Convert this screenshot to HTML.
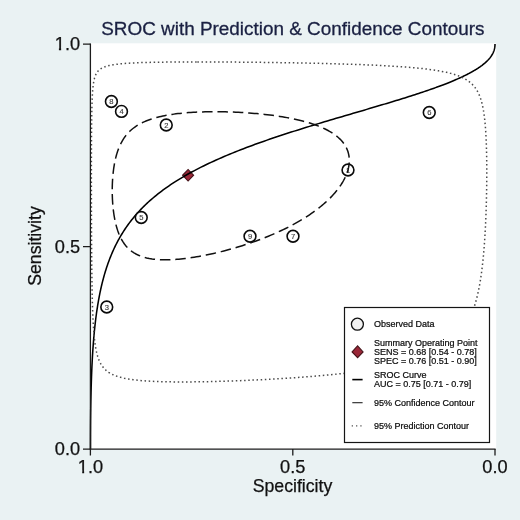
<!DOCTYPE html>
<html><head><meta charset="utf-8"><title>SROC</title>
<style>html,body{margin:0;padding:0;background:#eaf2f3;}svg{display:block}</style></head>
<body><svg width="520" height="520" viewBox="0 0 520 520" font-family="'Liberation Sans', Arial, sans-serif">
<rect x="0" y="0" width="520" height="520" fill="#eaf2f3"/>
<rect x="91" y="43.3" width="405.2" height="405.9" fill="#fff"/>
<path d="M182.6 175.25 L188.1 169.45 L193.6 175.25 L188.1 181.05 Z" fill="#9a2738" stroke="#451319" stroke-width="1.1" stroke-linejoin="miter"/>
<path d="M90.50 449.00 L90.50 446.97 L90.50 446.77 L90.50 446.55 L90.50 446.30 L90.50 446.03 L90.50 445.73 L90.50 445.40 L90.50 445.04 L90.50 444.64 L90.50 444.21 L90.50 443.73 L90.50 443.20 L90.50 442.62 L90.50 441.99 L90.51 441.29 L90.51 440.53 L90.51 439.69 L90.51 438.78 L90.51 437.77 L90.52 436.67 L90.52 435.46 L90.52 434.14 L90.53 432.70 L90.54 431.12 L90.55 429.40 L90.56 427.52 L90.57 425.47 L90.59 423.24 L90.60 420.82 L90.63 418.18 L90.66 415.32 L90.69 412.22 L90.74 408.87 L90.79 405.25 L90.86 401.34 L90.94 397.14 L91.04 392.62 L91.16 387.77 L91.32 382.59 L91.50 377.07 L91.50 377.07 L91.53 376.23 L91.56 375.38 L91.59 374.52 L91.63 373.66 L91.66 372.79 L91.70 371.91 L91.73 371.02 L91.77 370.13 L91.81 369.23 L91.85 368.32 L91.89 367.40 L91.93 366.48 L91.98 365.54 L92.02 364.60 L92.07 363.66 L92.12 362.70 L92.16 361.74 L92.22 360.76 L92.27 359.78 L92.32 358.80 L92.38 357.80 L92.43 356.80 L92.49 355.79 L92.55 354.77 L92.62 353.75 L92.68 352.71 L92.75 351.67 L92.81 350.62 L92.88 349.56 L92.96 348.50 L93.03 347.43 L93.11 346.35 L93.19 345.26 L93.27 344.17 L93.35 343.07 L93.44 341.96 L93.53 340.84 L93.62 339.72 L93.71 338.58 L93.81 337.44 L93.91 336.30 L94.02 335.15 L94.12 333.99 L94.23 332.82 L94.34 331.64 L94.46 330.46 L94.58 329.27 L94.70 328.08 L94.83 326.87 L94.96 325.67 L95.10 324.45 L95.23 323.23 L95.38 322.00 L95.52 320.76 L95.68 319.52 L95.83 318.27 L95.99 317.02 L96.16 315.76 L96.33 314.49 L96.50 313.22 L96.68 311.94 L96.87 310.65 L97.06 309.36 L97.26 308.07 L97.46 306.77 L97.67 305.46 L97.88 304.15 L98.10 302.83 L98.33 301.51 L98.57 300.18 L98.81 298.84 L99.06 297.51 L99.31 296.16 L99.58 294.82 L99.85 293.46 L100.12 292.11 L100.41 290.75 L100.71 289.38 L101.01 288.01 L101.32 286.64 L101.64 285.26 L101.97 283.88 L102.31 282.50 L102.66 281.11 L103.02 279.72 L103.39 278.33 L103.77 276.93 L104.17 275.53 L104.57 274.13 L104.98 272.72 L105.41 271.31 L105.85 269.90 L106.30 268.49 L106.76 267.07 L107.24 265.65 L107.72 264.23 L108.23 262.81 L108.74 261.39 L109.28 259.97 L109.82 258.54 L110.38 257.11 L110.96 255.69 L111.55 254.26 L112.16 252.83 L112.78 251.40 L113.43 249.97 L114.09 248.54 L114.76 247.11 L115.46 245.67 L116.17 244.24 L116.90 242.81 L117.66 241.38 L118.43 239.95 L119.22 238.52 L120.03 237.09 L120.87 235.67 L121.72 234.24 L122.60 232.82 L123.50 231.39 L124.42 229.97 L125.37 228.55 L126.34 227.13 L127.33 225.71 L128.35 224.30 L129.40 222.88 L130.47 221.47 L131.56 220.07 L132.69 218.66 L133.84 217.26 L135.02 215.86 L136.22 214.46 L137.45 213.07 L138.72 211.68 L140.01 210.29 L141.33 208.91 L142.68 207.53 L144.07 206.15 L145.48 204.78 L146.92 203.41 L148.40 202.04 L149.91 200.68 L151.45 199.33 L153.02 197.98 L154.63 196.63 L156.27 195.29 L157.94 193.95 L159.65 192.62 L161.39 191.29 L163.16 189.97 L164.97 188.65 L166.82 187.34 L168.70 186.03 L170.61 184.73 L172.56 183.44 L174.55 182.15 L176.57 180.86 L178.62 179.59 L180.71 178.32 L182.84 177.05 L185.00 175.79 L187.20 174.54 L189.43 173.29 L191.69 172.05 L193.99 170.81 L196.32 169.59 L198.69 168.36 L201.09 167.15 L203.52 165.94 L205.99 164.74 L208.49 163.55 L211.02 162.36 L213.58 161.18 L216.17 160.00 L218.79 158.84 L221.43 157.68 L224.11 156.53 L226.82 155.38 L229.55 154.24 L232.30 153.11 L235.09 151.99 L237.89 150.87 L240.72 149.77 L243.57 148.66 L246.44 147.57 L249.34 146.48 L252.25 145.41 L255.17 144.34 L258.12 143.27 L261.08 142.22 L264.05 141.17 L267.04 140.13 L270.04 139.10 L273.04 138.07 L276.06 137.06 L279.08 136.05 L282.12 135.04 L285.15 134.05 L288.19 133.06 L291.23 132.09 L294.27 131.12 L297.31 130.15 L300.35 129.20 L303.38 128.25 L306.42 127.31 L309.44 126.38 L312.46 125.46 L315.46 124.54 L318.46 123.63 L321.45 122.73 L324.42 121.84 L327.38 120.96 L330.33 120.08 L333.25 119.21 L336.16 118.35 L339.06 117.49 L341.93 116.65 L344.78 115.81 L347.61 114.98 L350.41 114.15 L353.20 113.34 L355.95 112.53 L358.68 111.73 L361.39 110.93 L364.07 110.15 L366.71 109.37 L369.33 108.60 L371.92 107.83 L374.48 107.08 L377.01 106.33 L379.51 105.59 L381.98 104.85 L384.41 104.12 L386.81 103.40 L389.18 102.69 L391.51 101.99 L393.81 101.29 L396.07 100.60 L398.30 99.91 L400.50 99.23 L402.66 98.56 L404.79 97.90 L406.88 97.24 L408.93 96.59 L410.95 95.95 L412.94 95.31 L414.89 94.68 L416.80 94.06 L418.68 93.44 L420.53 92.83 L422.34 92.23 L424.11 91.63 L425.85 91.04 L427.56 90.45 L429.23 89.88 L430.87 89.30 L432.48 88.74 L434.05 88.18 L435.59 87.63 L437.10 87.08 L438.58 86.54 L440.02 86.00 L441.43 85.47 L442.82 84.95 L444.17 84.43 L445.49 83.92 L446.78 83.41 L448.05 82.91 L449.28 82.42 L450.48 81.93 L451.66 81.45 L452.81 80.97 L453.94 80.50 L455.03 80.03 L456.10 79.57 L457.15 79.11 L458.17 78.66 L459.16 78.22 L460.13 77.78 L461.08 77.34 L462.00 76.91 L462.90 76.49 L463.78 76.07 L464.63 75.65 L465.47 75.24 L466.28 74.84 L467.07 74.44 L467.84 74.04 L468.60 73.65 L469.33 73.27 L470.04 72.88 L470.74 72.51 L471.41 72.14 L472.07 71.77 L472.72 71.40 L473.34 71.04 L473.95 70.69 L474.54 70.34 L475.12 69.99 L475.68 69.65 L476.22 69.31 L476.76 68.98 L477.27 68.65 L477.78 68.33 L478.26 68.01 L478.74 67.69 L479.20 67.38 L479.65 67.07 L480.09 66.76 L480.52 66.46 L480.93 66.16 L481.33 65.87 L481.73 65.58 L482.11 65.29 L482.48 65.01 L482.84 64.73 L483.19 64.45 L483.53 64.18 L483.86 63.91 L484.18 63.64 L484.49 63.38 L484.79 63.12 L485.09 62.86 L485.38 62.61 L485.65 62.36 L485.92 62.12 L486.19 61.87 L486.44 61.63 L486.69 61.40 L486.93 61.16 L487.17 60.93 L487.40 60.70 L487.62 60.48 L487.83 60.26 L488.04 60.04 L488.24 59.82 L488.44 59.61 L488.63 59.40 L488.82 59.19 L489.00 58.98 L489.17 58.78 L489.34 58.58 L489.51 58.38 L489.67 58.19 L489.82 58.00 L489.98 57.81 L490.12 57.62 L490.27 57.43 L490.40 57.25 L490.54 57.07 L490.67 56.89 L490.80 56.72 L490.92 56.55 L491.04 56.38 L491.16 56.21 L491.27 56.04 L491.38 55.88 L491.48 55.72 L491.59 55.56 L491.69 55.40 L491.79 55.24 L491.88 55.09 L491.97 54.94 L492.06 54.79 L492.15 54.64 L492.23 54.50 L492.31 54.35 L492.39 54.21 L492.47 54.07 L492.54 53.93 L492.62 53.80 L492.69 53.66 L492.75 53.53 L492.82 53.40 L492.88 53.27 L492.95 53.14 L493.01 53.02 L493.07 52.89 L493.12 52.77 L493.18 52.65 L493.23 52.53 L493.28 52.41 L493.34 52.30 L493.38 52.19 L493.43 52.07 L493.48 51.96 L493.52 51.85 L493.57 51.74 L493.61 51.64 L493.65 51.53 L493.69 51.43 L493.73 51.33 L493.77 51.22 L493.80 51.13 L493.84 51.03 L493.87 50.93 L493.91 50.83 L493.94 50.74 L493.97 50.65 L494.00 50.56 L494.00 50.56 L494.18 49.96 L494.34 49.42 L494.46 48.93 L494.56 48.48 L494.64 48.07 L494.71 47.70 L494.76 47.36 L494.81 47.06 L494.84 46.78 L494.87 46.52 L494.90 46.29 L494.91 46.08 L494.93 45.89 L494.94 45.72 L494.95 45.56 L494.96 45.42 L494.97 45.29 L494.98 45.17 L494.98 45.06 L494.98 44.97 L494.99 44.88 L494.99 44.80 L494.99 44.72 L494.99 44.66 L494.99 44.60 L495.00 44.54 L495.00 44.49 L495.00 44.45 L495.00 44.41 L495.00 44.37 L495.00 44.34 L495.00 44.30 L495.00 44.28 L495.00 44.25 L495.00 44.23 L495.00 44.21 L495.00 44.19 L495.00 44.17 L495.00 44.16 L495.00 44.00" fill="none" stroke="#000" stroke-width="1.55" stroke-linejoin="round"/>
<circle cx="348" cy="170" r="5.9" fill="#fff" stroke="#0a0a0a" stroke-width="1.6"/><text x="348" y="172.7" font-size="7.6" text-anchor="middle" fill="#383838" stroke="#383838" stroke-width="0.12">1</text>
<circle cx="166.25" cy="125" r="5.9" fill="#fff" stroke="#0a0a0a" stroke-width="1.6"/><text x="166.25" y="127.7" font-size="7.6" text-anchor="middle" fill="#383838" stroke="#383838" stroke-width="0.12">2</text>
<circle cx="106.75" cy="307" r="5.9" fill="#fff" stroke="#0a0a0a" stroke-width="1.6"/><text x="106.75" y="309.7" font-size="7.6" text-anchor="middle" fill="#383838" stroke="#383838" stroke-width="0.12">3</text>
<circle cx="121.5" cy="111.4" r="5.9" fill="#fff" stroke="#0a0a0a" stroke-width="1.6"/><text x="121.5" y="114.10000000000001" font-size="7.6" text-anchor="middle" fill="#383838" stroke="#383838" stroke-width="0.12">4</text>
<circle cx="141.25" cy="217.5" r="5.9" fill="#fff" stroke="#0a0a0a" stroke-width="1.6"/><text x="141.25" y="220.2" font-size="7.6" text-anchor="middle" fill="#383838" stroke="#383838" stroke-width="0.12">5</text>
<circle cx="429.25" cy="112.5" r="5.9" fill="#fff" stroke="#0a0a0a" stroke-width="1.6"/><text x="429.25" y="115.2" font-size="7.6" text-anchor="middle" fill="#383838" stroke="#383838" stroke-width="0.12">6</text>
<circle cx="293" cy="236.25" r="5.9" fill="#fff" stroke="#0a0a0a" stroke-width="1.6"/><text x="293" y="238.95" font-size="7.6" text-anchor="middle" fill="#383838" stroke="#383838" stroke-width="0.12">7</text>
<circle cx="111.4" cy="101.5" r="5.9" fill="#fff" stroke="#0a0a0a" stroke-width="1.6"/><text x="111.4" y="104.2" font-size="7.6" text-anchor="middle" fill="#383838" stroke="#383838" stroke-width="0.12">8</text>
<circle cx="250" cy="236.25" r="5.9" fill="#fff" stroke="#0a0a0a" stroke-width="1.6"/><text x="250" y="238.95" font-size="7.6" text-anchor="middle" fill="#383838" stroke="#383838" stroke-width="0.12">9</text>

<path d="M215.05 111.70 L212.52 111.70 L210.01 111.73 L207.53 111.76 L205.07 111.82 L202.63 111.88 L200.23 111.97 L197.85 112.06 L195.50 112.18 L193.19 112.30 L190.90 112.44 L188.65 112.60 L186.44 112.77 L184.26 112.96 L182.11 113.16 L180.00 113.38 L177.93 113.62 L175.90 113.86 L173.90 114.13 L171.95 114.41 L170.03 114.70 L168.15 115.01 L166.32 115.34 L164.52 115.68 L162.76 116.04 L161.04 116.41 L159.36 116.80 L157.72 117.21 L156.12 117.63 L154.55 118.06 L153.03 118.52 L151.54 118.99 L150.10 119.47 L148.69 119.97 L147.32 120.49 L145.98 121.03 L144.68 121.58 L143.42 122.14 L142.19 122.73 L141.00 123.33 L139.84 123.95 L138.72 124.58 L137.62 125.23 L136.56 125.90 L135.54 126.58 L134.54 127.28 L133.58 128.00 L132.64 128.73 L131.73 129.49 L130.86 130.25 L130.01 131.04 L129.18 131.84 L128.39 132.66 L127.62 133.50 L126.88 134.35 L126.16 135.22 L125.46 136.11 L124.79 137.01 L124.15 137.93 L123.52 138.87 L122.92 139.82 L122.34 140.79 L121.78 141.77 L121.24 142.77 L120.72 143.79 L120.22 144.82 L119.74 145.87 L119.28 146.94 L118.84 148.01 L118.41 149.11 L118.00 150.22 L117.61 151.34 L117.24 152.48 L116.88 153.63 L116.53 154.80 L116.21 155.98 L115.89 157.17 L115.59 158.38 L115.31 159.60 L115.04 160.83 L114.79 162.07 L114.54 163.33 L114.31 164.60 L114.10 165.87 L113.90 167.16 L113.70 168.46 L113.53 169.76 L113.36 171.08 L113.21 172.41 L113.06 173.74 L112.93 175.08 L112.81 176.43 L112.71 177.78 L112.61 179.14 L112.53 180.51 L112.45 181.88 L112.39 183.26 L112.34 184.64 L112.30 186.02 L112.27 187.41 L112.25 188.80 L112.24 190.19 L112.24 191.58 L112.25 192.97 L112.28 194.36 L112.31 195.75 L112.36 197.14 L112.41 198.53 L112.48 199.91 L112.56 201.29 L112.65 202.67 L112.75 204.04 L112.86 205.41 L112.99 206.77 L113.12 208.13 L113.27 209.48 L113.43 210.82 L113.60 212.15 L113.78 213.48 L113.98 214.79 L114.19 216.10 L114.41 217.39 L114.64 218.67 L114.89 219.95 L115.15 221.20 L115.43 222.45 L115.72 223.68 L116.02 224.90 L116.34 226.11 L116.67 227.30 L117.02 228.47 L117.39 229.63 L117.77 230.78 L118.17 231.90 L118.59 233.01 L119.02 234.10 L119.47 235.17 L119.94 236.23 L120.43 237.26 L120.93 238.28 L121.46 239.27 L122.01 240.25 L122.58 241.20 L123.17 242.14 L123.78 243.05 L124.41 243.94 L125.07 244.81 L125.75 245.66 L126.45 246.48 L127.18 247.29 L127.94 248.07 L128.72 248.82 L129.52 249.55 L130.35 250.26 L131.22 250.95 L132.11 251.61 L133.02 252.25 L133.97 252.86 L134.95 253.44 L135.96 254.01 L137.00 254.54 L138.07 255.05 L139.18 255.54 L140.32 256.00 L141.49 256.44 L142.70 256.85 L143.94 257.23 L145.22 257.59 L146.53 257.92 L147.88 258.22 L149.27 258.50 L150.69 258.75 L152.16 258.98 L153.66 259.18 L155.20 259.35 L156.77 259.50 L158.39 259.62 L160.05 259.71 L161.75 259.78 L163.48 259.82 L165.26 259.83 L167.07 259.82 L168.93 259.78 L170.82 259.71 L172.76 259.62 L174.73 259.50 L176.74 259.35 L178.79 259.18 L180.87 258.98 L183.00 258.75 L185.16 258.50 L187.35 258.22 L189.58 257.92 L191.85 257.59 L194.14 257.23 L196.47 256.85 L198.83 256.44 L201.22 256.00 L203.64 255.54 L206.09 255.05 L208.56 254.54 L211.05 254.01 L213.57 253.44 L216.11 252.86 L218.66 252.25 L221.24 251.61 L223.83 250.95 L226.43 250.26 L229.05 249.55 L231.67 248.82 L234.31 248.07 L236.95 247.29 L239.59 246.48 L242.24 245.66 L244.88 244.81 L247.53 243.94 L250.17 243.05 L252.80 242.14 L255.43 241.20 L258.05 240.25 L260.65 239.27 L263.24 238.28 L265.81 237.26 L268.37 236.23 L270.91 235.17 L273.42 234.10 L275.92 233.01 L278.38 231.90 L280.82 230.78 L283.24 229.63 L285.62 228.47 L287.97 227.30 L290.29 226.11 L292.58 224.90 L294.83 223.68 L297.04 222.45 L299.22 221.20 L301.36 219.95 L303.45 218.67 L305.51 217.39 L307.53 216.10 L309.50 214.79 L311.43 213.48 L313.31 212.15 L315.15 210.82 L316.95 209.48 L318.70 208.13 L320.40 206.77 L322.06 205.41 L323.67 204.04 L325.23 202.67 L326.74 201.29 L328.21 199.91 L329.62 198.53 L330.99 197.14 L332.31 195.75 L333.58 194.36 L334.80 192.97 L335.97 191.58 L337.09 190.19 L338.17 188.80 L339.19 187.41 L340.16 186.02 L341.09 184.64 L341.96 183.26 L342.79 181.88 L343.56 180.51 L344.29 179.14 L344.96 177.78 L345.59 176.43 L346.17 175.08 L346.70 173.74 L347.18 172.41 L347.61 171.08 L347.99 169.76 L348.32 168.46 L348.61 167.16 L348.84 165.87 L349.03 164.60 L349.16 163.33 L349.25 162.07 L349.29 160.83 L349.28 159.60 L349.22 158.38 L349.11 157.17 L348.95 155.98 L348.75 154.80 L348.49 153.63 L348.19 152.48 L347.84 151.34 L347.44 150.22 L346.98 149.11 L346.48 148.01 L345.94 146.94 L345.34 145.87 L344.69 144.82 L343.99 143.79 L343.25 142.77 L342.45 141.77 L341.60 140.79 L340.71 139.82 L339.76 138.87 L338.77 137.93 L337.73 137.01 L336.63 136.11 L335.49 135.22 L334.30 134.35 L333.06 133.50 L331.77 132.66 L330.43 131.84 L329.04 131.04 L327.61 130.25 L326.12 129.49 L324.59 128.73 L323.01 128.00 L321.38 127.28 L319.70 126.58 L317.98 125.90 L316.21 125.23 L314.40 124.58 L312.54 123.95 L310.63 123.33 L308.69 122.73 L306.70 122.14 L304.66 121.58 L302.59 121.03 L300.47 120.49 L298.32 119.97 L296.13 119.47 L293.90 118.99 L291.63 118.52 L289.33 118.06 L287.00 117.63 L284.64 117.21 L282.24 116.80 L279.82 116.41 L277.36 116.04 L274.89 115.68 L272.38 115.34 L269.86 115.01 L267.31 114.70 L264.75 114.41 L262.17 114.13 L259.57 113.86 L256.96 113.62 L254.34 113.38 L251.71 113.16 L249.07 112.96 L246.43 112.77 L243.79 112.60 L241.14 112.44 L238.49 112.30 L235.85 112.18 L233.21 112.06 L230.58 111.97 L227.96 111.88 L225.35 111.82 L222.75 111.76 L220.17 111.73 L217.60 111.70 Z" fill="none" stroke="#111" stroke-width="1.5" stroke-dasharray="10.500 4.886" stroke-dashoffset="-2.50"/>
<path d="M196.65 61.94 L193.27 61.94 L189.96 61.95 L186.72 61.95 L183.55 61.97 L180.46 61.98 L177.44 62.00 L174.50 62.02 L171.63 62.04 L168.84 62.07 L166.12 62.09 L163.48 62.13 L160.91 62.16 L158.42 62.20 L155.99 62.24 L153.65 62.29 L151.37 62.34 L149.16 62.39 L147.02 62.44 L144.95 62.50 L142.95 62.56 L141.01 62.63 L139.14 62.69 L137.33 62.77 L135.58 62.84 L133.89 62.92 L132.26 63.00 L130.69 63.09 L129.17 63.17 L127.71 63.27 L126.30 63.36 L124.94 63.46 L123.63 63.56 L122.37 63.67 L121.16 63.78 L119.99 63.90 L118.87 64.01 L117.78 64.14 L116.74 64.26 L115.74 64.39 L114.78 64.53 L113.86 64.67 L112.97 64.81 L112.11 64.96 L111.29 65.11 L110.50 65.26 L109.74 65.42 L109.02 65.59 L108.32 65.76 L107.64 65.93 L107.00 66.11 L106.38 66.29 L105.78 66.48 L105.21 66.67 L104.67 66.87 L104.14 67.07 L103.63 67.28 L103.15 67.49 L102.68 67.71 L102.24 67.94 L101.81 68.17 L101.39 68.40 L101.00 68.64 L100.62 68.89 L100.26 69.14 L99.91 69.40 L99.57 69.67 L99.25 69.94 L98.94 70.21 L98.64 70.50 L98.36 70.79 L98.08 71.08 L97.82 71.39 L97.57 71.70 L97.32 72.02 L97.09 72.34 L96.87 72.67 L96.65 73.01 L96.45 73.36 L96.25 73.71 L96.06 74.08 L95.88 74.45 L95.70 74.82 L95.53 75.21 L95.37 75.60 L95.21 76.01 L95.06 76.42 L94.92 76.84 L94.78 77.27 L94.65 77.71 L94.52 78.16 L94.40 78.61 L94.28 79.08 L94.17 79.56 L94.06 80.04 L93.95 80.54 L93.85 81.05 L93.75 81.56 L93.66 82.09 L93.57 82.63 L93.48 83.18 L93.40 83.74 L93.32 84.31 L93.24 84.89 L93.17 85.49 L93.10 86.09 L93.03 86.71 L92.96 87.34 L92.90 87.98 L92.83 88.64 L92.78 89.31 L92.72 89.99 L92.66 90.68 L92.61 91.39 L92.56 92.11 L92.51 92.84 L92.46 93.59 L92.42 94.35 L92.37 95.13 L92.33 95.92 L92.29 96.72 L92.25 97.54 L92.21 98.38 L92.17 99.23 L92.14 100.09 L92.11 100.98 L92.07 101.87 L92.04 102.78 L92.01 103.71 L91.98 104.66 L91.95 105.62 L91.92 106.59 L91.90 107.59 L91.87 108.60 L91.85 109.62 L91.83 110.67 L91.80 111.73 L91.78 112.81 L91.76 113.90 L91.74 115.02 L91.72 116.15 L91.70 117.30 L91.68 118.46 L91.67 119.65 L91.65 120.85 L91.63 122.07 L91.62 123.31 L91.60 124.57 L91.59 125.84 L91.57 127.14 L91.56 128.45 L91.55 129.78 L91.54 131.13 L91.53 132.49 L91.51 133.88 L91.50 135.28 L91.49 136.70 L91.48 138.14 L91.47 139.60 L91.47 141.07 L91.46 142.57 L91.45 144.08 L91.44 145.61 L91.44 147.16 L91.43 148.72 L91.42 150.30 L91.42 151.90 L91.41 153.52 L91.41 155.15 L91.40 156.80 L91.40 158.46 L91.39 160.14 L91.39 161.84 L91.39 163.55 L91.38 165.28 L91.38 167.03 L91.38 168.78 L91.38 170.56 L91.38 172.34 L91.37 174.14 L91.37 175.96 L91.37 177.78 L91.37 179.62 L91.37 181.47 L91.37 183.34 L91.37 185.21 L91.37 187.09 L91.38 188.99 L91.38 190.90 L91.38 192.81 L91.38 194.74 L91.38 196.67 L91.39 198.61 L91.39 200.56 L91.40 202.51 L91.40 204.48 L91.40 206.44 L91.41 208.42 L91.41 210.40 L91.42 212.38 L91.43 214.37 L91.43 216.36 L91.44 218.35 L91.45 220.34 L91.45 222.34 L91.46 224.34 L91.47 226.34 L91.48 228.33 L91.49 230.33 L91.50 232.33 L91.51 234.32 L91.52 236.32 L91.53 238.30 L91.54 240.29 L91.56 242.27 L91.57 244.25 L91.58 246.22 L91.60 248.19 L91.61 250.15 L91.63 252.11 L91.64 254.05 L91.66 255.99 L91.67 257.93 L91.69 259.85 L91.71 261.76 L91.73 263.67 L91.75 265.56 L91.77 267.45 L91.79 269.32 L91.81 271.18 L91.84 273.03 L91.86 274.87 L91.89 276.70 L91.91 278.51 L91.94 280.31 L91.97 282.10 L92.00 283.88 L92.03 285.64 L92.06 287.38 L92.09 289.11 L92.12 290.83 L92.16 292.53 L92.19 294.21 L92.23 295.88 L92.27 297.53 L92.31 299.17 L92.35 300.79 L92.39 302.40 L92.44 303.98 L92.49 305.55 L92.53 307.11 L92.58 308.64 L92.64 310.16 L92.69 311.66 L92.75 313.15 L92.81 314.61 L92.87 316.06 L92.93 317.49 L92.99 318.90 L93.06 320.30 L93.13 321.68 L93.21 323.04 L93.28 324.38 L93.36 325.70 L93.44 327.01 L93.53 328.29 L93.62 329.56 L93.71 330.81 L93.80 332.05 L93.90 333.26 L94.01 334.46 L94.11 335.64 L94.22 336.80 L94.34 337.94 L94.46 339.07 L94.59 340.18 L94.72 341.27 L94.85 342.34 L94.99 343.40 L95.14 344.44 L95.29 345.46 L95.45 346.47 L95.62 347.45 L95.79 348.42 L95.97 349.38 L96.16 350.32 L96.35 351.24 L96.55 352.14 L96.76 353.03 L96.98 353.90 L97.21 354.76 L97.45 355.60 L97.69 356.43 L97.95 357.24 L98.22 358.03 L98.50 358.81 L98.79 359.57 L99.09 360.32 L99.41 361.05 L99.74 361.77 L100.08 362.47 L100.44 363.16 L100.81 363.84 L101.20 364.50 L101.60 365.14 L102.02 365.77 L102.46 366.39 L102.92 366.99 L103.39 367.58 L103.89 368.16 L104.40 368.72 L104.94 369.27 L105.50 369.81 L106.09 370.33 L106.69 370.84 L107.33 371.34 L107.98 371.83 L108.67 372.30 L109.38 372.76 L110.13 373.21 L110.90 373.64 L111.71 374.07 L112.54 374.48 L113.42 374.88 L114.32 375.26 L115.27 375.64 L116.25 376.00 L117.27 376.35 L118.33 376.70 L119.43 377.02 L120.58 377.34 L121.77 377.65 L123.01 377.94 L124.29 378.23 L125.63 378.50 L127.01 378.76 L128.45 379.02 L129.94 379.26 L131.48 379.49 L133.08 379.71 L134.74 379.92 L136.46 380.11 L138.24 380.30 L140.09 380.48 L141.99 380.65 L143.96 380.80 L146.00 380.95 L148.10 381.09 L150.28 381.21 L152.52 381.33 L154.84 381.43 L157.22 381.53 L159.68 381.61 L162.21 381.69 L164.82 381.75 L167.50 381.81 L170.25 381.85 L173.08 381.89 L175.99 381.91 L178.97 381.93 L182.03 381.93 L185.16 381.93 L188.36 381.91 L191.64 381.89 L194.99 381.85 L198.41 381.81 L201.90 381.75 L205.46 381.69 L209.08 381.61 L212.77 381.53 L216.52 381.43 L220.33 381.33 L224.20 381.21 L228.12 381.09 L232.09 380.95 L236.12 380.80 L240.19 380.65 L244.30 380.48 L248.44 380.30 L252.63 380.11 L256.84 379.92 L261.08 379.71 L265.34 379.49 L269.62 379.26 L273.92 379.02 L278.22 378.76 L282.53 378.50 L286.84 378.23 L291.15 377.94 L295.45 377.65 L299.74 377.34 L304.02 377.02 L308.28 376.70 L312.51 376.35 L316.71 376.00 L320.88 375.64 L325.02 375.26 L329.12 374.88 L333.18 374.48 L337.19 374.07 L341.16 373.64 L345.07 373.21 L348.94 372.76 L352.74 372.30 L356.49 371.83 L360.18 371.34 L363.80 370.84 L367.36 370.33 L370.86 369.81 L374.29 369.27 L377.65 368.72 L380.94 368.16 L384.17 367.58 L387.32 366.99 L390.40 366.39 L393.42 365.77 L396.36 365.14 L399.23 364.50 L402.03 363.84 L404.76 363.16 L407.42 362.47 L410.01 361.77 L412.53 361.05 L414.98 360.32 L417.37 359.57 L419.69 358.81 L421.94 358.03 L424.13 357.24 L426.25 356.43 L428.32 355.60 L430.32 354.76 L432.26 353.90 L434.14 353.03 L435.96 352.14 L437.73 351.24 L439.44 350.32 L441.10 349.38 L442.71 348.42 L444.26 347.45 L445.77 346.47 L447.23 345.46 L448.64 344.44 L450.00 343.40 L451.32 342.34 L452.59 341.27 L453.83 340.18 L455.02 339.07 L456.17 337.94 L457.28 336.80 L458.36 335.64 L459.40 334.46 L460.41 333.26 L461.38 332.05 L462.31 330.81 L463.22 329.56 L464.10 328.29 L464.94 327.01 L465.76 325.70 L466.55 324.38 L467.31 323.04 L468.04 321.68 L468.75 320.30 L469.44 318.90 L470.10 317.49 L470.74 316.06 L471.36 314.61 L471.96 313.15 L472.53 311.66 L473.09 310.16 L473.63 308.64 L474.14 307.11 L474.64 305.55 L475.13 303.98 L475.59 302.40 L476.04 300.79 L476.48 299.17 L476.90 297.53 L477.31 295.88 L477.70 294.21 L478.07 292.53 L478.44 290.83 L478.79 289.11 L479.13 287.38 L479.46 285.64 L479.78 283.88 L480.08 282.10 L480.38 280.31 L480.66 278.51 L480.94 276.70 L481.20 274.87 L481.46 273.03 L481.71 271.18 L481.95 269.32 L482.18 267.45 L482.40 265.56 L482.61 263.67 L482.82 261.76 L483.02 259.85 L483.21 257.93 L483.40 255.99 L483.57 254.05 L483.74 252.11 L483.91 250.15 L484.07 248.19 L484.22 246.22 L484.37 244.25 L484.51 242.27 L484.65 240.29 L484.78 238.30 L484.90 236.32 L485.02 234.32 L485.14 232.33 L485.25 230.33 L485.36 228.33 L485.46 226.34 L485.56 224.34 L485.65 222.34 L485.74 220.34 L485.82 218.35 L485.90 216.36 L485.98 214.37 L486.05 212.38 L486.12 210.40 L486.18 208.42 L486.24 206.44 L486.30 204.48 L486.36 202.51 L486.41 200.56 L486.45 198.61 L486.50 196.67 L486.54 194.74 L486.57 192.81 L486.61 190.90 L486.64 188.99 L486.67 187.09 L486.69 185.21 L486.71 183.34 L486.73 181.47 L486.74 179.62 L486.75 177.78 L486.76 175.96 L486.77 174.14 L486.77 172.34 L486.77 170.56 L486.77 168.78 L486.76 167.03 L486.75 165.28 L486.74 163.55 L486.72 161.84 L486.70 160.14 L486.68 158.46 L486.65 156.80 L486.62 155.15 L486.59 153.52 L486.56 151.90 L486.52 150.30 L486.47 148.72 L486.43 147.16 L486.38 145.61 L486.33 144.08 L486.27 142.57 L486.21 141.07 L486.15 139.60 L486.08 138.14 L486.01 136.70 L485.94 135.28 L485.86 133.88 L485.78 132.49 L485.69 131.13 L485.60 129.78 L485.51 128.45 L485.41 127.14 L485.30 125.84 L485.19 124.57 L485.08 123.31 L484.96 122.07 L484.84 120.85 L484.71 119.65 L484.58 118.46 L484.44 117.30 L484.29 116.15 L484.14 115.02 L483.99 113.90 L483.83 112.81 L483.66 111.73 L483.48 110.67 L483.30 109.62 L483.11 108.60 L482.92 107.59 L482.72 106.59 L482.50 105.62 L482.29 104.66 L482.06 103.71 L481.83 102.78 L481.58 101.87 L481.33 100.98 L481.07 100.09 L480.80 99.23 L480.52 98.38 L480.23 97.54 L479.93 96.72 L479.62 95.92 L479.29 95.13 L478.96 94.35 L478.61 93.59 L478.26 92.84 L477.88 92.11 L477.50 91.39 L477.10 90.68 L476.69 89.99 L476.26 89.31 L475.82 88.64 L475.36 87.98 L474.88 87.34 L474.39 86.71 L473.88 86.09 L473.35 85.49 L472.81 84.89 L472.24 84.31 L471.65 83.74 L471.05 83.18 L470.42 82.63 L469.77 82.09 L469.09 81.56 L468.39 81.05 L467.67 80.54 L466.92 80.04 L466.15 79.56 L465.34 79.08 L464.51 78.61 L463.65 78.16 L462.76 77.71 L461.84 77.27 L460.88 76.84 L459.90 76.42 L458.87 76.01 L457.82 75.60 L456.72 75.21 L455.59 74.82 L454.41 74.45 L453.20 74.08 L451.95 73.71 L450.65 73.36 L449.31 73.01 L447.92 72.67 L446.49 72.34 L445.01 72.02 L443.48 71.70 L441.90 71.39 L440.26 71.08 L438.58 70.79 L436.84 70.50 L435.04 70.21 L433.19 69.94 L431.27 69.67 L429.30 69.40 L427.27 69.14 L425.18 68.89 L423.02 68.64 L420.80 68.40 L418.51 68.17 L416.16 67.94 L413.74 67.71 L411.25 67.49 L408.69 67.28 L406.07 67.07 L403.37 66.87 L400.61 66.67 L397.77 66.48 L394.86 66.29 L391.89 66.11 L388.84 65.93 L385.72 65.76 L382.53 65.59 L379.27 65.42 L375.94 65.26 L372.54 65.11 L369.08 64.96 L365.55 64.81 L361.96 64.67 L358.30 64.53 L354.58 64.39 L350.81 64.26 L346.97 64.14 L343.08 64.01 L339.14 63.90 L335.15 63.78 L331.11 63.67 L327.03 63.56 L322.91 63.46 L318.76 63.36 L314.57 63.27 L310.35 63.17 L306.11 63.09 L301.84 63.00 L297.56 62.92 L293.26 62.84 L288.95 62.77 L284.64 62.69 L280.33 62.63 L276.02 62.56 L271.72 62.50 L267.43 62.44 L263.16 62.39 L258.91 62.34 L254.68 62.29 L250.49 62.24 L246.32 62.20 L242.19 62.16 L238.10 62.13 L234.06 62.09 L230.06 62.07 L226.11 62.04 L222.22 62.02 L218.38 62.00 L214.60 61.98 L210.88 61.97 L207.22 61.95 L203.63 61.95 L200.11 61.94 Z" fill="none" stroke="#4a4a4a" stroke-width="1.5" stroke-dasharray="1.5 2.65"/>
<!-- axes -->
<g stroke="#1c1c1c" stroke-width="1.3" fill="none">
<path d="M90.4 43.6 V449.8"/>
<path d="M89.8 449.2 H495.6"/>
<path d="M83 44.2 H90.4 M83 246.6 H90.4 M83 449.2 H90.4"/>
<path d="M90.4 449 V455.5 M292.8 449 V455.5 M495 449 V455.5"/>
</g>
<g font-size="18.2" fill="#111" stroke="#111" stroke-width="0.25">
<text x="80.1" y="50" text-anchor="end">1.0</text>
<text x="80.1" y="252.5" text-anchor="end">0.5</text>
<text x="80.1" y="455" text-anchor="end">0.0</text>
<text x="90.5" y="472.6" text-anchor="middle">1.0</text>
<text x="292.75" y="472.6" text-anchor="middle">0.5</text>
<text x="495" y="472.6" text-anchor="middle">0.0</text>
<text x="292.5" y="492" text-anchor="middle" font-size="17.7">Specificity</text>
<text transform="translate(41,246) rotate(-90)" text-anchor="middle" font-size="17.7">Sensitivity</text>
</g>
<g fill="#eaf2f3"><rect x="78" y="470.5" width="4.2" height="3.6"/><rect x="84.15" y="470.5" width="3.9" height="3.6"/><rect x="54.4" y="47.5" width="4.5" height="3.6"/><rect x="61.15" y="47.5" width="3.9" height="3.6"/></g>
<text x="292.9" y="35" text-anchor="middle" font-size="18.9" fill="#1a2042" stroke="#1a2042" stroke-width="0.3">SROC with Prediction &amp; Confidence Contours</text>
<!-- legend -->
<rect x="344.5" y="307.5" width="145" height="135" fill="#fff" stroke="#151515" stroke-width="1.2"/>
<circle cx="357.4" cy="324.2" r="6" fill="#f2f2f2" stroke="#111" stroke-width="1.3"/>
<path d="M352.1 351.9 L357.6 345.9 L363.1 351.9 L357.6 357.7 Z" fill="#9a2738" stroke="#451319" stroke-width="1.1"/>
<path d="M352.3 379.6 H362.6" stroke="#000" stroke-width="1.6"/>
<path d="M352.3 402.7 H362.6" stroke="#222" stroke-width="1.1"/>
<path d="M351.7 425.8 H363" stroke="#555" stroke-width="1.3" stroke-dasharray="1.3 3"/>
<g font-size="9" fill="#0c0c0c" stroke="#0c0c0c" stroke-width="0.22">
<text x="374" y="327.3">Observed Data</text>
<text x="374" y="345.9">Summary Operating Point</text>
<text x="374" y="354.8">SENS = 0.68 [0.54 - 0.78]</text>
<text x="374" y="363.7">SPEC = 0.76 [0.51 - 0.90]</text>
<text x="374" y="377.8">SROC Curve</text>
<text x="374" y="386.8">AUC = 0.75 [0.71 - 0.79]</text>
<text x="374" y="405.6">95% Confidence Contour</text>
<text x="374" y="428.6">95% Prediction Contour</text>
</g>
</svg></body></html>
